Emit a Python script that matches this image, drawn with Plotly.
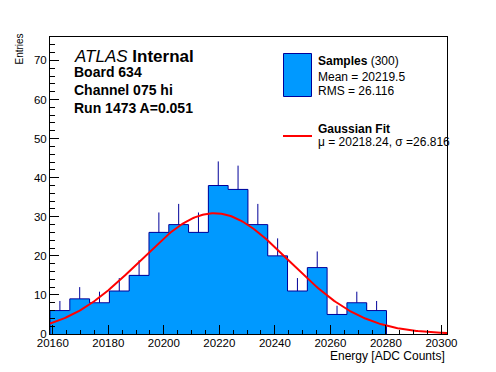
import numpy as np
import plotly.graph_objects as go

# ---- data ----
bin_start = 20159.0
bin_width = 7.13
counts = [6, 9, 8, 11, 15, 26, 28, 26, 38, 37, 28, 20, 11, 17, 5, 8, 6]
fit_mu = 20218.24
fit_sigma = 26.816
fit_amp = 30.9
x_range = [20159, 20302]
y_range = [0, 76]
x_ticks = [20160, 20180, 20200, 20220, 20240, 20260, 20280, 20300]
y_ticks = [0, 10, 20, 30, 40, 50, 60, 70]

# page has an 8px body margin, so the figure is drawn 8px smaller and shifted
OFF = 8
W, H = 496 - OFF, 372 - OFF
ML, MR, MT, MB = 50 - OFF, 49, 37 - OFF, 38
PW, PH = W - ML - MR, H - MT - MB

def px(x):  # page pixel -> paper
    return (x - OFF - ML) / PW

def py(y):
    return (H - MB - (y - OFF)) / PH

n = len(counts)
edges = [bin_start + i * bin_width for i in range(n + 1)]
centers = [bin_start + (i + 0.5) * bin_width for i in range(n)]
errs = [float(np.sqrt(c)) for c in counts]

FILL = "#0099FF"
EDGE = "#000099"
FONT = "Liberation Sans, Arial, Helvetica, sans-serif"

fig = go.Figure()
fig.add_trace(go.Bar(x=centers, y=counts, width=bin_width, marker=dict(color=FILL, line=dict(width=0)),
                     hoverinfo="skip", showlegend=False))
# outline (step)
sx = [edges[0]] + edges[:-1] + [edges[-1], edges[-1]]
sy = [0] + counts + [counts[-1], 0]
fig.add_trace(go.Scatter(x=sx, y=sy, mode="lines", line=dict(color=EDGE, width=1, shape="hv"),
                         hoverinfo="skip", showlegend=False))
# upward error bars
fig.add_trace(go.Scatter(x=centers, y=counts, mode="markers", marker=dict(size=1, opacity=0),
                         error_y=dict(type="data", symmetric=False, array=errs, arrayminus=[0] * n,
                                      color=EDGE, thickness=1, width=0),
                         hoverinfo="skip", showlegend=False))
# gaussian fit curve from fitted parameters
fx = np.linspace(x_range[0], x_range[1], 300)
fy = fit_amp * np.exp(-0.5 * ((fx - fit_mu) / fit_sigma) ** 2)
fig.add_trace(go.Scatter(x=fx, y=fy, mode="lines", line=dict(color="#FF0000", width=2),
                         hoverinfo="skip", showlegend=False))

fig.update_layout(
    width=W, height=H, margin=dict(l=ML, r=MR, t=MT, b=MB, autoexpand=False),
    paper_bgcolor="white", plot_bgcolor="white",
    font=dict(family=FONT, color="black", size=11.5),
    bargap=0,
    xaxis=dict(range=x_range, tickvals=x_ticks, ticktext=[str(v) for v in x_ticks],
               ticks="inside", ticklen=9, tickcolor="black", automargin=False,
               showline=True, linecolor="black", linewidth=1, mirror=True, showgrid=False, zeroline=False,
               minor=dict(dtick=5, tick0=20160, ticks="inside", ticklen=4, tickcolor="black", showgrid=False),
               tickfont=dict(size=11.5), ticklabelstandoff=-2),
    yaxis=dict(range=y_range, tickvals=y_ticks, ticktext=[str(v) for v in y_ticks],
               ticks="inside", ticklen=9, tickcolor="black", automargin=False,
               showline=True, linecolor="black", linewidth=1, mirror=True, showgrid=False, zeroline=False,
               minor=dict(dtick=2, ticks="inside", ticklen=5, tickcolor="black", showgrid=False),
               tickfont=dict(size=11.5), ticklabelstandoff=0),
)

ann = []
def text(x, y, s, size, anchor="left", **kw):
    ann.append(dict(xref="paper", yref="paper", x=px(x), y=py(y), text=s, showarrow=False,
                    xanchor=anchor, yanchor="middle", font=dict(family=FONT, size=size, color="black"), **kw))

text(446.7, 356, "Energy [ADC Counts]", 12, anchor="right")
ann.append(dict(xref="paper", yref="paper", x=px(19), y=py(49.5), text="Entries", showarrow=False,
                textangle=-90, xanchor="center", yanchor="middle", font=dict(family=FONT, size=10, color="black")))
text(72, 56, "<i>ATLAS</i> <b>Internal</b>", 17)
text(72, 72, "<b>Board 634</b>", 14)
text(72, 90, "<b>Channel 075 hi</b>", 14)
text(72, 108, "<b>Run 1473 A=0.051</b>", 14)
text(316, 61, "<b>Samples</b> (300)", 12)
text(316, 77, "Mean = 20219.5", 12)
text(316, 90.5, "RMS = 26.116", 12)
text(316, 129, "<b>Gaussian Fit</b>", 12)
text(316, 141.5, "μ = 20218.24, σ =26.816", 12)
fig.update_layout(annotations=ann)

fig.add_shape(type="rect", xref="paper", yref="paper", x0=px(283.5), x1=px(311.5), y0=py(96.5), y1=py(53.5),
              fillcolor=FILL, line=dict(color=EDGE, width=1))
fig.add_shape(type="line", xref="paper", yref="paper", x0=px(283), x1=px(312), y0=py(136), y1=py(136),
              line=dict(color="#FF0000", width=2))

fig.write_html("out.html")
